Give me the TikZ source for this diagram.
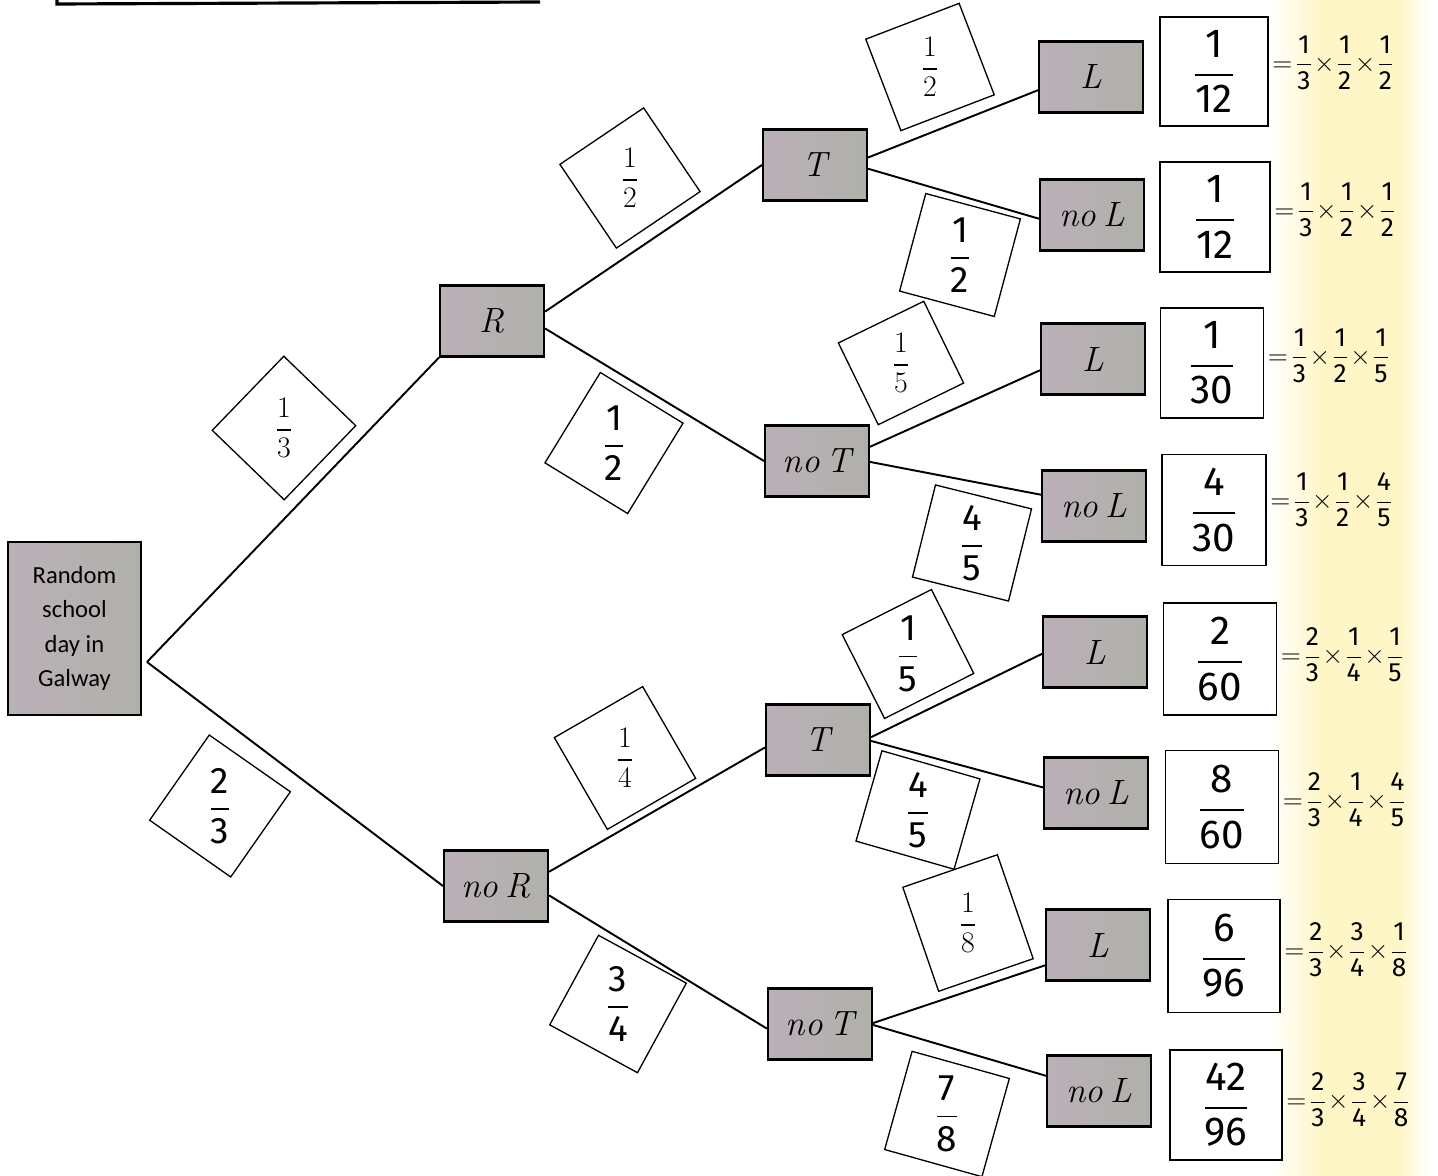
\RequirePackage{fix-cm}
\documentclass[tikz,border=0pt]{standalone}
\usepackage{amsmath}
\usepackage{fontspec}
\newfontfamily\calib{Carlito}
\newfontfamily\hw{Fira Sans}
\usetikzlibrary{calc}
\definecolor{ylw}{RGB}{255,246,200}
\definecolor{gA}{RGB}{186,176,184}
\definecolor{gB}{RGB}{176,176,170}
\newcommand{\hfr}[2]{\ensuremath{\dfrac{\text{\hw #1}}{\text{\hw #2}}}}
\newcommand{\fm}[6]{$=\!\hfr{#1}{#2}\!\times\!\hfr{#3}{#4}\!\times\!\hfr{#5}{#6}$}
\newcommand{\nosp}{\hspace{0.2em}}
\tikzset{
  gbox/.style={draw, line width=1.2pt, left color=gA, right color=gB, minimum width=2.08cm, minimum height=1.42cm, inner sep=0pt, font=\fontsize{20}{23}\selectfont\itshape},
  rbox/.style={draw, line width=1.1pt, fill=white, inner sep=0pt},
  pbox/.style={draw, line width=0.75pt, fill=white, inner sep=0pt},
  conn/.style={line width=1.1pt},
  pfrac/.style={font=\fontsize{17}{19}\selectfont},
  hfrac/.style={font=\fontsize{21}{24}\selectfont},
  rfrac/.style={font=\fontsize{23}{26}\selectfont},
  form/.style={anchor=west, inner sep=0pt, font=\fontsize{15}{17}\selectfont},
}
\begin{document}
\begin{tikzpicture}[x=0.02cm, y=-0.02cm]
\useasboundingbox (0,0) rectangle (1438,1176);
% background
\fill[white] (0,0) rectangle (1438,1176);
\shade[left color=white, right color=ylw] (1268,0) rectangle (1320,1176);
\fill[ylw] (1320,0) rectangle (1400,1176);
\shade[left color=ylw, right color=white] (1400,0) rectangle (1430,1176);
% cropped header frame at top
\draw[line width=1.8pt] (57,-5) -- (57,4) -- (540,2);

% root
\node[draw, line width=1.2pt, left color=gA, right color=gB, minimum width=2.66cm, minimum height=3.46cm, inner sep=0pt, align=center, font=\calib\fontsize{14}{19.5}\selectfont] (root) at (74.5,628.5) {Random\\school\\day in\\Galway};
\coordinate (r0) at (147,662);

% level 1
\node[gbox] (R) at (492,321) {R};
\node[gbox] (noR) at (496,886) {no\nosp R};
% level 2
\node[gbox] (T1) at (815,165) {T};
\node[gbox] (noT1) at (817,461) {no\nosp T};
\node[gbox] (T2) at (818,740) {T};
\node[gbox] (noT2) at (820,1024) {no\nosp T};
% level 3
\node[gbox] (L1) at (1091,77) {L};
\node[gbox] (noL1) at (1092,215) {no\nosp L};
\node[gbox] (L2) at (1093,359) {L};
\node[gbox] (noL2) at (1094,506) {no\nosp L};
\node[gbox] (L3) at (1095,652) {L};
\node[gbox] (noL3) at (1096,793) {no\nosp L};
\node[gbox] (L4) at (1098,945) {L};
\node[gbox] (noL4) at (1099,1091) {no\nosp L};

% connectors
\draw[conn] (r0) -- (R.south west);
\draw[conn] (r0) -- (noR.west);
\draw[conn] (R.10) -- (T1.west);
\draw[conn] (R.-8) -- (noT1.west);
\draw[conn] (noR.15) -- (T2.188);
\draw[conn] (noR.-10) -- (noT2.185);
\draw[conn] (T1.8) -- (L1.194);
\draw[conn] (T1.-4) -- (noL1.184);
\draw[conn] (noT1.15) -- (L2.192);
\draw[conn] (noT1.-1) -- (noL2.168);
\draw[conn] (T2.3) -- (L3.182);
\draw[conn] (T2.-1) -- (noL3.174);
\draw[conn] (noT2.1) -- (L4.201);
\draw[conn] (noT2.-1) -- (noL4.164);

% probability label boxes (rotated along branches)
\node[pbox, minimum width=2.06cm, minimum height=2.0cm, rotate=46] (bR) at (284,428) {};
\node[pfrac] (tR) at (bR) {$\dfrac{1}{3}$};
\node[pbox, minimum width=1.98cm, minimum height=2.08cm, rotate=-35] (bnR) at (220,806) {};
\node[hfrac] (tnR) at (bnR) {\hfr{2}{3}};

\node[pbox, minimum width=2.02cm, minimum height=2.02cm, rotate=34] (bT1) at (630,178) {};
\node[pfrac] (tT1) at (bT1) {$\dfrac{1}{2}$};
\node[pbox, minimum width=1.94cm, minimum height=2.12cm, rotate=-31.5] (bnT1) at (614,443) {};
\node[hfrac] (tnT1) at (bnT1) {\hfr{1}{2}};

\node[pbox, minimum width=2.04cm, minimum height=2.12cm, rotate=30] (bT2) at (625,758) {};
\node[pfrac] (tT2) at (bT2) {$\dfrac{1}{4}$};
\node[pbox, minimum width=2.0cm, minimum height=2.04cm, rotate=-28.6] (bnT2) at (618,1004) {};
\node[hfrac] (tnT2) at (bnT2) {\hfr{3}{4}};

\node[pbox, minimum width=2.0cm, minimum height=1.96cm, rotate=21] (bL1) at (930,67) {};
\node[pfrac] (tL1) at (bL1) {$\dfrac{1}{2}$};
\node[pbox, minimum width=1.96cm, minimum height=2.02cm, rotate=-15] (bnL1) at (960,255) {};
\node[hfrac] (tnL1) at (bnL1) {\hfr{1}{2}};

\node[pbox, minimum width=1.9cm, minimum height=1.82cm, rotate=26] (bL2) at (901,363) {};
\node[pfrac] (tL2) at (bL2) {$\dfrac{1}{5}$};
\node[pbox, minimum width=1.98cm, minimum height=1.9cm, rotate=-14] (bnL2) at (972,543) {};
\node[hfrac] (tnL2) at (bnL2) {\hfr{4}{5}};

\node[pbox, minimum width=2.0cm, minimum height=1.88cm, rotate=26.8] (bL3) at (908,654) {};
\node[hfrac] (tL3) at (bL3) {\hfr{1}{5}};
\node[pbox, minimum width=2.04cm, minimum height=1.88cm, rotate=-16] (bnL3) at (918,810) {};
\node[hfrac] (tnL3) at (bnL3) {\hfr{4}{5}};

\node[pbox, minimum width=2.0cm, minimum height=2.2cm, rotate=19] (bL4) at (968,923) {};
\node[pfrac] (tL4) at (bL4) {$\dfrac{1}{8}$};
\node[pbox, minimum width=2.02cm, minimum height=2.04cm, rotate=-15.6] (bnL4) at (947,1114) {};
\node[hfrac] (tnL4) at (bnL4) {\hfr{7}{8}};

% result boxes
\node[rbox, minimum width=2.16cm, minimum height=2.18cm, rfrac] (r1) at (1214,71.5) {\hfr{1}{12}};
\node[rbox, minimum width=2.2cm, minimum height=2.2cm, rfrac] (r2) at (1215,217) {\hfr{1}{12}};
\node[rbox, minimum width=2.06cm, minimum height=2.2cm, rfrac] (r3) at (1212,363) {\hfr{1}{30}};
\node[rbox, minimum width=2.08cm, minimum height=2.22cm, rfrac] (r4) at (1214,510) {\hfr{4}{30}};
\node[rbox, minimum width=2.26cm, minimum height=2.24cm, rfrac] (r5) at (1220,659) {\hfr{2}{60}};
\node[rbox, minimum width=2.26cm, minimum height=2.26cm, rfrac] (r6) at (1222,807) {\hfr{8}{60}};
\node[rbox, minimum width=2.24cm, minimum height=2.26cm, rfrac] (r7) at (1224,956) {\hfr{6}{96}};
\node[rbox, minimum width=2.24cm, minimum height=2.2cm, rfrac] (r8) at (1226,1105) {\hfr{42}{96}};

% products
\node[form] (f1) at ($(r1.east)+(3,-9)$) {\fm{1}{3}{1}{2}{1}{2}};
\node[form] (f2) at ($(r2.east)+(3,-7)$) {\fm{1}{3}{1}{2}{1}{2}};
\node[form] (f3) at ($(r3.east)+(3,-7)$) {\fm{1}{3}{1}{2}{1}{5}};
\node[form] (f4) at ($(r4.east)+(3,-10)$) {\fm{1}{3}{1}{2}{4}{5}};
\node[form] (f5) at ($(r5.east)+(3,-4)$) {\fm{2}{3}{1}{4}{1}{5}};
\node[form] (f6) at ($(r6.east)+(3,-7)$) {\fm{2}{3}{1}{4}{4}{5}};
\node[form] (f7) at ($(r7.east)+(3,-6)$) {\fm{2}{3}{3}{4}{1}{8}};
\node[form] (f8) at ($(r8.east)+(3,-5)$) {\fm{2}{3}{3}{4}{7}{8}};
\end{tikzpicture}
\end{document}
